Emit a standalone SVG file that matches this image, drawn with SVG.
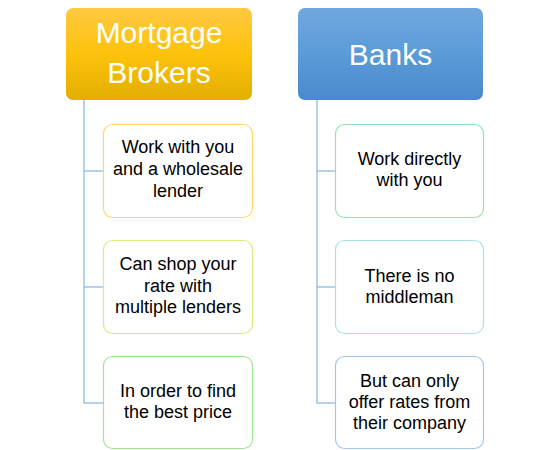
<svg xmlns="http://www.w3.org/2000/svg" width="550" height="450" viewBox="0 0 550 450">
<style>
.hdr{font-family:"Liberation Sans",Arial,sans-serif;font-size:30px;fill:#fff;text-anchor:middle}
.t{font-family:"Liberation Sans",Arial,sans-serif;font-size:18px;fill:#000;text-anchor:middle}
.box{fill:#fff;stroke-width:1.2}
.conn{fill:none;stroke:#9DC3E6;stroke-width:1.5}
</style>
<defs>
<linearGradient id="gY" x1="0" y1="0" x2="0" y2="1">
<stop offset="0" stop-color="#FFC941"/><stop offset="0.5" stop-color="#FDC20C"/><stop offset="1" stop-color="#E3AE00"/>
</linearGradient>
<linearGradient id="gB" x1="0" y1="0" x2="0" y2="1">
<stop offset="0" stop-color="#72A7DE"/><stop offset="0.5" stop-color="#5B9BD8"/><stop offset="1" stop-color="#4A8ACC"/>
</linearGradient>
</defs>
<rect width="550" height="450" fill="#fff"/>
<g id="connectors">
<path class="conn" d="M84,100 V403 H103 M84,171 H103 M84,287 H103"/>
<path class="conn" d="M317,100 V403 H335 M317,171 H335 M317,287 H335"/>
</g>
<g id="mortgage-brokers">
<rect x="66" y="8" width="186" height="92" rx="7" fill="url(#gY)"/>
<text class="hdr" x="159" y="43">Mortgage</text>
<text class="hdr" x="159" y="83">Brokers</text>
</g>
<g id="banks">
<rect x="298" y="8" width="185" height="92" rx="7" fill="url(#gB)"/>
<text class="hdr" x="390.5" y="65">Banks</text>
</g>
<g id="mb-1">
<rect class="box" x="103.5" y="124.5" width="149" height="93" rx="9" stroke="#FFD966"/>
<text class="t" x="178" y="153">Work with you</text>
<text class="t" x="178" y="175">and a wholesale</text>
<text class="t" x="178" y="197">lender</text>
</g>
<g id="mb-2">
<rect class="box" x="103.5" y="240.5" width="149" height="93" rx="9" stroke="#D5EE7C"/>
<text class="t" x="178" y="270">Can shop your</text>
<text class="t" x="178" y="292">rate with</text>
<text class="t" x="178" y="313">multiple lenders</text>
</g>
<g id="mb-3">
<rect class="box" x="103.5" y="356.5" width="149" height="92" rx="9" stroke="#9EE890"/>
<text class="t" x="178" y="397">In order to find</text>
<text class="t" x="178" y="418">the best price</text>
</g>
<g id="bk-1">
<rect class="box" x="335.5" y="124.5" width="148" height="93" rx="9" stroke="#8FE8AA"/>
<text class="t" x="409.5" y="165">Work directly</text>
<text class="t" x="409.5" y="186">with you</text>
</g>
<g id="bk-2">
<rect class="box" x="335.5" y="240.5" width="148" height="93" rx="9" stroke="#A6E5E3"/>
<text class="t" x="409.5" y="282">There is no</text>
<text class="t" x="409.5" y="303">middleman</text>
</g>
<g id="bk-3">
<rect class="box" x="335.5" y="356.5" width="148" height="92" rx="9" stroke="#A3C7EA"/>
<text class="t" x="409.5" y="387">But can only</text>
<text class="t" x="409.5" y="408">offer rates from</text>
<text class="t" x="409.5" y="429">their company</text>
</g>
</svg>
